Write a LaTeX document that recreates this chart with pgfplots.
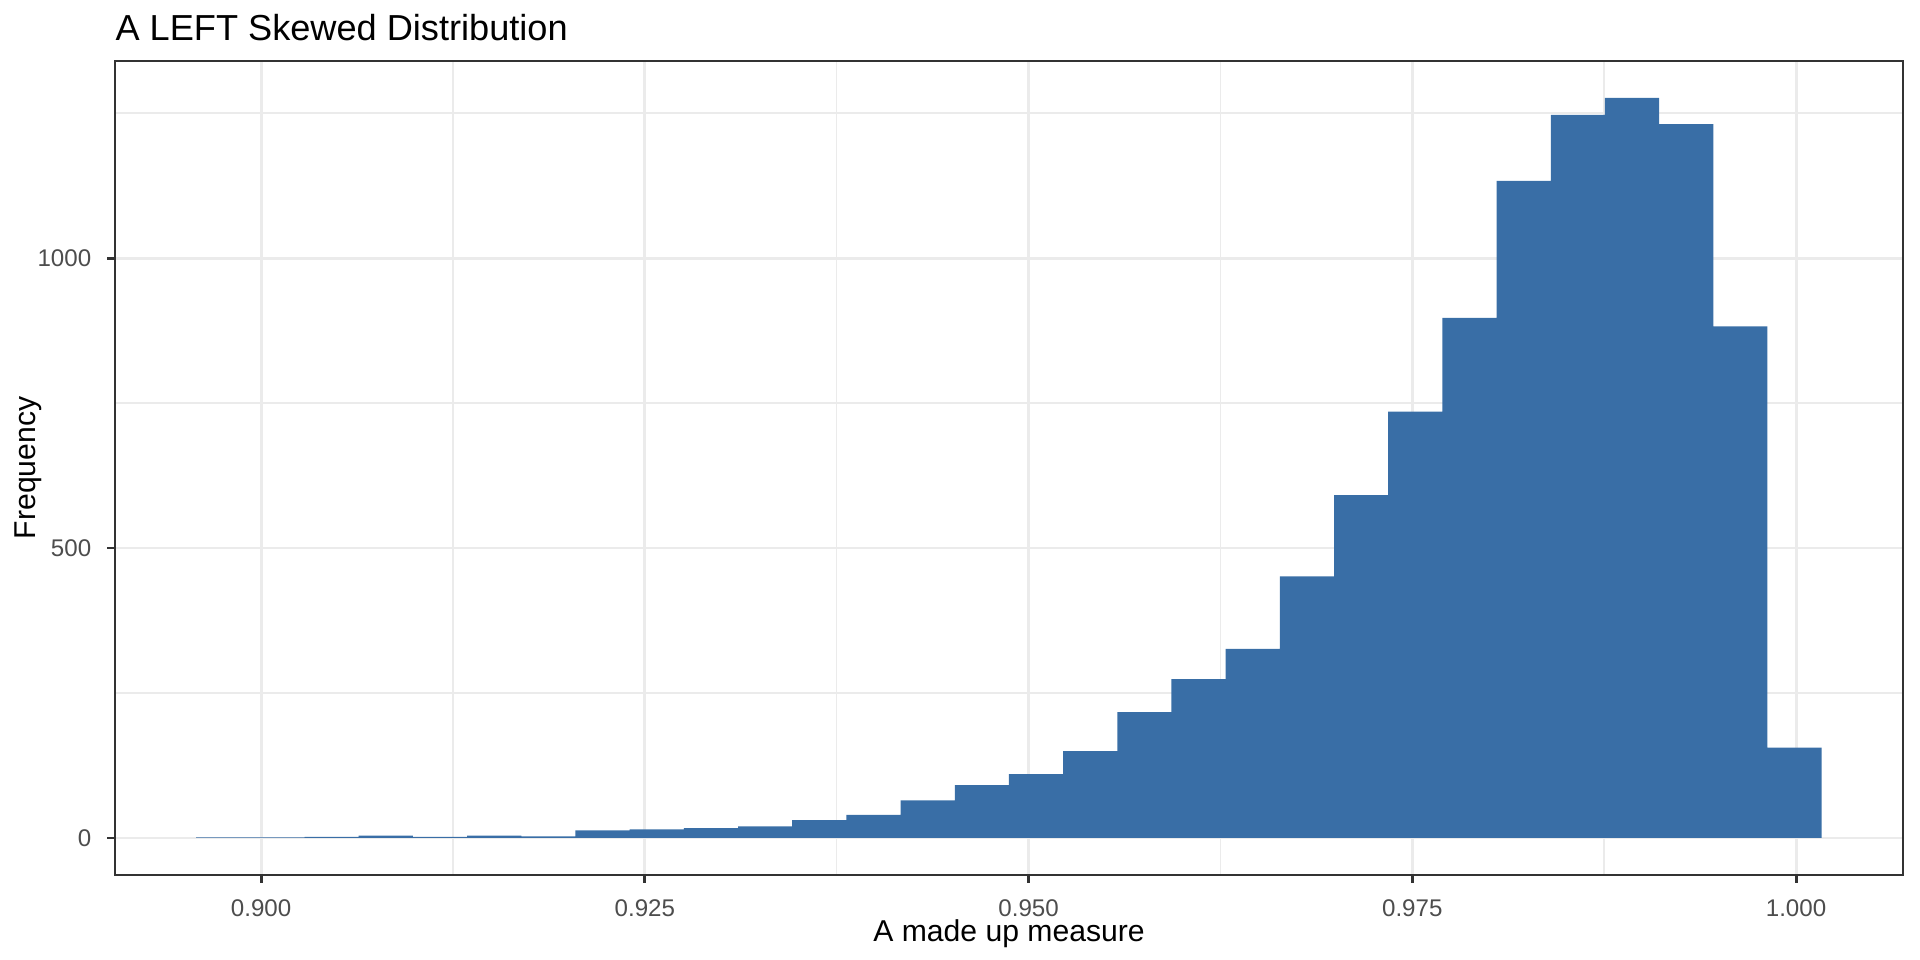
\documentclass[border=0pt]{standalone}
\usepackage{fontspec}
\setmainfont{Liberation Sans}
\usepackage{pgfplots}
\pgfplotsset{compat=1.18}
\definecolor{barfill}{HTML}{396EA6}
\definecolor{grid92}{HTML}{EBEBEB}
\definecolor{grey20}{HTML}{333333}
\definecolor{grey30}{HTML}{4D4D4D}
\begin{document}
\begin{tikzpicture}
\path[use as bounding box] (0,0) rectangle (700.8pt,350.4pt);
\begin{axis}[
  at={(41.975pt,31.025pt)}, anchor=south west,
  width=652.62pt, height=297.11pt, scale only axis,
  xmin=0.89048, xmax=1.00697, ymin=-63.8, ymax=1339.8,
  xtick={0.900,0.925,0.950,0.975,1.000},
  minor xtick={0.9125,0.9375,0.9625,0.9875},
  ytick={0,500,1000},
  minor ytick={250,750,1250},
  grid=both,
  major grid style={draw=grid92, line width=1.07pt},
  minor grid style={draw=grid92, line width=0.53pt},
  tick align=outside,
  major tick length=2.75pt, minor tick length=0pt,
  xtick pos=bottom, ytick pos=left,
  tick style={draw=grey20, line width=1.07pt},
  axis line style={draw=grey20, line width=1.07pt},
  /pgf/number format/assume math mode=true,
  xticklabel style={/pgf/number format/fixed, /pgf/number format/fixed zerofill, /pgf/number format/precision=3,
    font=\fontsize{8.8}{10}\selectfont, text=grey30, anchor=base, inner sep=0pt, yshift=-12.3pt},
  yticklabel style={/pgf/number format/1000 sep={}, font=\fontsize{8.8}{10}\selectfont, text=grey30,
    anchor=east, inner sep=0pt, xshift=-5.73pt},
  scaled x ticks=false, scaled y ticks=false,
  xlabel={A made up measure},
  xlabel style={at={(axis description cs:0.5,-0.0820)}, anchor=base, inner sep=0pt,
    font=\fontsize{11}{13}\selectfont, text=black},
  ylabel={Frequency},
  ylabel style={at={(axis description cs:-0.04474,0.5)}, anchor=base, inner sep=0pt,
    font=\fontsize{11}{13}\selectfont, text=black},
]
\addplot[ybar interval, fill=barfill, draw=none] coordinates {
(0.89577,1) (0.89930,1) (0.90283,2) (0.90636,4) (0.90989,2)
(0.91342,4) (0.91695,3) (0.92048,13) (0.92401,15) (0.92754,17)
(0.93107,20) (0.93460,31) (0.93813,40) (0.94166,65) (0.94519,91)
(0.94872,110) (0.95225,150) (0.95578,217) (0.95931,274) (0.96284,326)
(0.96637,451) (0.96990,591) (0.97343,735) (0.97696,897) (0.98049,1133)
(0.98402,1247) (0.98755,1276) (0.99108,1231) (0.99461,882) (0.99814,156)
(1.00167,0)
};
\end{axis}
\node[anchor=base west, inner sep=0pt, font=\fontsize{13.2}{15}\selectfont, text=black]
  at (41.975pt,335.54pt) {A LEFT Skewed Distribution};
\end{tikzpicture}
\end{document}
